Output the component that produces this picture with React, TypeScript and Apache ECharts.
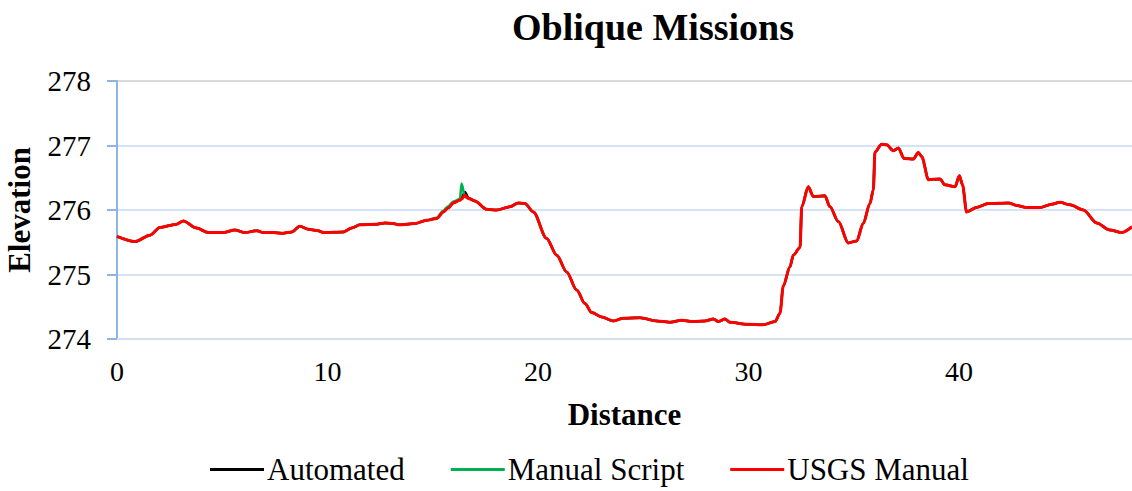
import React, { useEffect, useRef } from "react";
import * as echarts from "echarts";

const distance = [
  0, 0.86, 1.57, 2.04, 2.83, 3.15, 3.78, 4.34, 5.05, 5.6, 6.08, 6.64, 6.95, 7.43, 7.9, 8.3, 8.69, 9.09, 9.56, 9.8,
  10.75, 11.15, 11.54, 12.34, 12.73, 13.13, 13.37, 14.16, 14.71, 15.19, 15.5, 15.74, 15.98, 16.29, 16.37, 16.53,
  16.69, 17.0, 17.56, 18.04, 18.67, 19.06, 19.38, 19.78, 20.41, 20.89, 21.36, 21.84, 22.23, 22.55, 23.03, 23.58,
  24.05, 24.85, 25.64, 26.27, 26.83, 27.38, 27.93, 28.33, 28.57, 28.88, 29.12, 29.91, 30.7, 31.26, 31.5, 31.65,
  31.97, 32.13, 32.45, 32.53, 32.84, 33.08, 33.63, 33.87, 34.27, 34.74, 35.14, 35.45, 35.77, 35.93, 36.01, 36.33,
  36.56, 36.88, 37.12, 37.39, 37.83, 38.07, 38.23, 38.55, 39.1, 39.33, 39.81, 40.02, 40.17, 40.36, 40.84, 41.39,
  42.35, 42.74, 43.21, 43.85, 44.4, 44.8, 45.27, 45.91, 46.54, 47.17, 47.73, 48.22,
];

const usgsManual = [
  275.59, 275.51, 275.61, 275.73, 275.78, 275.83, 275.72, 275.65, 275.65, 275.69, 275.65, 275.68, 275.65, 275.65,
  275.64, 275.66, 275.75, 275.7, 275.68, 275.65, 275.66, 275.72, 275.77, 275.78, 275.8, 275.79, 275.77, 275.79,
  275.84, 275.87, 275.97, 276.03, 276.11, 276.15, 276.17, 276.23, 276.18, 276.14, 276.01, 276.0, 276.05, 276.11,
  276.1, 275.97, 275.56, 275.3, 275.04, 274.76, 274.55, 274.41, 274.34, 274.28, 274.32, 274.33, 274.28, 274.26,
  274.29, 274.27, 274.28, 274.31, 274.27, 274.31, 274.26, 274.23, 274.22, 274.27, 274.4, 274.82, 275.12, 275.3,
  275.42, 276.05, 276.36, 276.21, 276.22, 276.05, 275.82, 275.49, 275.52, 275.79, 276.1, 276.31, 276.9, 277.02,
  277.01, 276.92, 276.96, 276.8, 276.79, 276.89, 276.83, 276.47, 276.48, 276.39, 276.36, 276.53, 276.39, 275.97,
  276.04, 276.1, 276.11, 276.07, 276.04, 276.04, 276.09, 276.12, 276.08, 276.0, 275.8, 275.69, 275.65, 275.74,
];

const manualScript = [
  275.59, 275.51, 275.61, 275.73, 275.78, 275.83, 275.72, 275.65, 275.65, 275.69, 275.65, 275.68, 275.65, 275.65,
  275.64, 275.66, 275.75, 275.7, 275.68, 275.65, 275.66, 275.72, 275.77, 275.78, 275.8, 275.79, 275.77, 275.79,
  275.84, 275.88, 275.99, 276.06, 276.13, 276.17, 276.41, 276.2, 276.18, 276.14, 276.01, 276.0, 276.05, 276.11,
  276.1, 275.97, 275.56, 275.3, 275.04, 274.76, 274.55, 274.41, 274.34, 274.28, 274.32, 274.33, 274.28, 274.26,
  274.29, 274.27, 274.28, 274.31, 274.27, 274.31, 274.26, 274.23, 274.22, 274.27, 274.4, 274.82, 275.12, 275.3,
  275.42, 276.05, 276.36, 276.21, 276.22, 276.05, 275.82, 275.49, 275.52, 275.79, 276.1, 276.31, 276.9, 277.02,
  277.01, 276.92, 276.96, 276.8, 276.79, 276.89, 276.83, 276.47, 276.48, 276.39, 276.36, 276.53, 276.39, 275.97,
  276.04, 276.1, 276.11, 276.07, 276.04, 276.04, 276.09, 276.12, 276.08, 276.0, 275.8, 275.69, 275.65, 275.74,
];

const automated = [
  275.59, 275.51, 275.61, 275.73, 275.78, 275.83, 275.72, 275.65, 275.65, 275.69, 275.65, 275.68, 275.65, 275.65,
  275.64, 275.66, 275.75, 275.7, 275.68, 275.65, 275.66, 275.72, 275.77, 275.78, 275.8, 275.79, 275.77, 275.79,
  275.84, 275.87, 275.97, 276.04, 276.11, 276.16, 276.19, 276.28, 276.19, 276.14, 276.01, 276.0, 276.05, 276.11,
  276.1, 275.97, 275.56, 275.3, 275.04, 274.76, 274.55, 274.41, 274.34, 274.28, 274.32, 274.33, 274.28, 274.26,
  274.29, 274.27, 274.28, 274.31, 274.27, 274.31, 274.26, 274.23, 274.22, 274.27, 274.4, 274.82, 275.12, 275.3,
  275.42, 276.05, 276.36, 276.21, 276.22, 276.05, 275.82, 275.49, 275.52, 275.79, 276.1, 276.31, 276.9, 277.02,
  277.01, 276.92, 276.96, 276.8, 276.79, 276.89, 276.83, 276.47, 276.48, 276.39, 276.36, 276.53, 276.39, 275.97,
  276.04, 276.1, 276.11, 276.07, 276.04, 276.04, 276.09, 276.12, 276.08, 276.0, 275.8, 275.69, 275.65, 275.74,
];

const seriesNames = ["Automated", "Manual Script", "USGS Manual"];
const seriesColors = ["#000000", "#00B050", "#FF0000"];

const FONT = "'Liberation Serif', 'Times New Roman', serif";

export default function App() {
  const ref = useRef<HTMLDivElement>(null);

  useEffect(() => {
    if (!ref.current) return;
    const chart = echarts.init(ref.current, undefined, { renderer: "svg" });
    const all = [automated, manualScript, usgsManual];
    const widths = [2.5, 2.5, 3];
    chart.setOption({
      animation: false,
      backgroundColor: "#ffffff",
      textStyle: { fontFamily: FONT },
      title: {
        text: "Oblique Missions",
        left: 648,
        top: 3,
        textAlign: "center",
        textStyle: { fontFamily: FONT, fontWeight: "bold", fontSize: 38, color: "#000" },
      },
      legend: {
        data: seriesNames,
        left: 205,
        top: 449,
        icon: "rect",
        itemWidth: 54,
        itemHeight: 3,
        itemGap: 46,
        textStyle: { fontFamily: FONT, fontSize: 31, color: "#000", padding: [0, 0, 0, -2] },
      },
      grid: { left: 117, right: 0, top: 81, bottom: 152, outerBoundsMode: "none", containLabel: false },
      xAxis: {
        type: "value",
        min: 0,
        max: 48.22,
        interval: 10,
        name: "Distance",
        nameLocation: "middle",
        nameGap: 60,
        nameTextStyle: { fontFamily: FONT, fontWeight: "bold", fontSize: 31, color: "#000" },
        axisLine: { show: true, lineStyle: { color: "#D3DEEF", width: 2 } },
        axisTick: { show: false },
        splitLine: { show: false },
        axisLabel: { fontFamily: FONT, fontSize: 28, color: "#000", margin: 18, showMaxLabel: false },
      },
      yAxis: {
        type: "value",
        min: 274,
        max: 278,
        interval: 1,
        name: "Elevation",
        nameLocation: "middle",
        nameGap: 82,
        nameTextStyle: { fontFamily: FONT, fontWeight: "bold", fontSize: 31, color: "#000" },
        axisLine: { show: true, lineStyle: { color: "#8EB4E3", width: 2 } },
        axisTick: { show: true, length: 10, lineStyle: { color: "#8EB4E3", width: 2 } },
        splitLine: {
          show: true,
          lineStyle: { color: ["#D3DEEF", "#D6E3F5", "#D6E3F5", "#D6E3F5", "#D9D9D9"], width: 2 },
        },
        axisLabel: { fontFamily: FONT, fontSize: 29, color: "#000", margin: 26 },
      },
      series: seriesNames.map((name, i) => ({
        name,
        type: "line",
        showSymbol: false,
        symbol: "none",
        smooth: 0.3,
        smoothMonotone: "x",
        color: seriesColors[i],
        lineStyle: { color: seriesColors[i], width: widths[i] },
        data: distance.map((d, j) => [d, all[i][j]]),
        z: 2 + i,
      })),
    });
    return () => chart.dispose();
  }, []);

  return (
    <div
      ref={ref}
      style={{ position: "absolute", left: 0, top: 0, width: 1132, height: 491, background: "#fff" }}
    />
  );
}
